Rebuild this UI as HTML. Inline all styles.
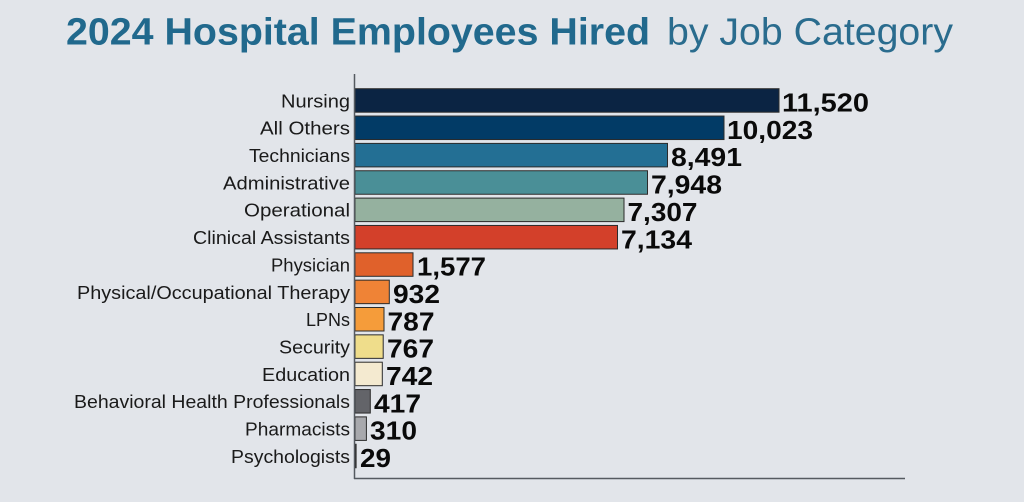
<!DOCTYPE html>
<html>
<head>
<meta charset="utf-8">
<style>
  html,body{margin:0;padding:0;background:#e2e5ea;}
  svg{display:block;}
  .lab{font-family:"Liberation Sans",sans-serif;font-size:18px;fill:#1a1a1a;}
  .val{font-family:"Liberation Sans",sans-serif;font-size:26px;font-weight:bold;fill:#0a0a0a;}
</style>
</head>
<body>
<svg width="1024" height="502" viewBox="0 0 1024 502" xmlns="http://www.w3.org/2000/svg">
  <rect x="0" y="0" width="1024" height="502" fill="#e2e5ea"/>
  <!-- Title -->
  <text x="66" y="44.5" font-family="Liberation Sans, sans-serif" font-size="38" font-weight="bold" fill="#21698d" textLength="584" lengthAdjust="spacingAndGlyphs">2024 Hospital Employees Hired</text>
  <text x="667" y="44.5" font-family="Liberation Sans, sans-serif" font-size="38" fill="#2a6c8e" textLength="286" lengthAdjust="spacingAndGlyphs">by Job Category</text>

  <!-- Bars -->
  <g stroke="#2b2b2b" stroke-width="1">
    <rect x="355" y="88.7"  width="424" height="23.5" fill="#0b2443"/>
    <rect x="355" y="116.05" width="369" height="23.5" fill="#023b66"/>
    <rect x="355" y="143.4" width="312.5" height="23.5" fill="#236f94"/>
    <rect x="355" y="170.75" width="292.5" height="23.5" fill="#4a8f97"/>
    <rect x="355" y="198.1" width="269" height="23.5" fill="#95b19f"/>
    <rect x="355" y="225.45" width="262.5" height="23.5" fill="#d3402a"/>
    <rect x="355" y="252.8" width="58" height="23.5" fill="#e0612b"/>
    <rect x="355" y="280.15" width="34.3" height="23.5" fill="#ef8336"/>
    <rect x="355" y="307.5" width="29" height="23.5" fill="#f59c3a"/>
    <rect x="355" y="334.85" width="28.2" height="23.5" fill="#efdd8b"/>
    <rect x="355" y="362.2" width="27.3" height="23.5" fill="#f4ead0"/>
    <rect x="355" y="389.55" width="15.3" height="23.5" fill="#636469"/>
    <rect x="355" y="416.9" width="11.4" height="23.5" fill="#a8a9ad"/>
    <rect x="355" y="444.25" width="1.1" height="23.5" fill="#333333"/>
  </g>

  <!-- Axes -->
  <line x1="354.5" y1="74" x2="354.5" y2="479" stroke="#555a60" stroke-width="1.5"/>
  <line x1="354" y1="478.5" x2="905" y2="478.5" stroke="#555a60" stroke-width="1.5"/>

  <!-- Category labels -->
  <g class="lab" text-anchor="end">
    <text x="350" y="107.3" textLength="69" lengthAdjust="spacingAndGlyphs">Nursing</text>
    <text x="350" y="134.65" textLength="90" lengthAdjust="spacingAndGlyphs">All Others</text>
    <text x="350" y="162" textLength="101" lengthAdjust="spacingAndGlyphs">Technicians</text>
    <text x="350" y="189.35" textLength="127" lengthAdjust="spacingAndGlyphs">Administrative</text>
    <text x="350" y="216.7" textLength="106" lengthAdjust="spacingAndGlyphs">Operational</text>
    <text x="350" y="244.05" textLength="157" lengthAdjust="spacingAndGlyphs">Clinical Assistants</text>
    <text x="350" y="271.4" textLength="79" lengthAdjust="spacingAndGlyphs">Physician</text>
    <text x="350" y="298.75" textLength="273" lengthAdjust="spacingAndGlyphs">Physical/Occupational Therapy</text>
    <text x="350" y="326.1" textLength="44" lengthAdjust="spacingAndGlyphs">LPNs</text>
    <text x="350" y="353.45" textLength="71" lengthAdjust="spacingAndGlyphs">Security</text>
    <text x="350" y="380.8" textLength="88" lengthAdjust="spacingAndGlyphs">Education</text>
    <text x="350" y="408.15" textLength="276" lengthAdjust="spacingAndGlyphs">Behavioral Health Professionals</text>
    <text x="350" y="435.5" textLength="105" lengthAdjust="spacingAndGlyphs">Pharmacists</text>
    <text x="350" y="462.85" textLength="119" lengthAdjust="spacingAndGlyphs">Psychologists</text>
  </g>

  <!-- Value labels -->
  <g class="val">
    <text x="782" y="111.5" textLength="87" lengthAdjust="spacingAndGlyphs">11,520</text>
    <text x="727" y="138.85" textLength="86" lengthAdjust="spacingAndGlyphs">10,023</text>
    <text x="671" y="166.2" textLength="71" lengthAdjust="spacingAndGlyphs">8,491</text>
    <text x="651" y="193.55" textLength="71" lengthAdjust="spacingAndGlyphs">7,948</text>
    <text x="627.5" y="220.9" textLength="70" lengthAdjust="spacingAndGlyphs">7,307</text>
    <text x="621" y="248.25" textLength="71" lengthAdjust="spacingAndGlyphs">7,134</text>
    <text x="417" y="275.6" textLength="69" lengthAdjust="spacingAndGlyphs">1,577</text>
    <text x="393" y="302.95" textLength="47" lengthAdjust="spacingAndGlyphs">932</text>
    <text x="387.5" y="330.3" textLength="47" lengthAdjust="spacingAndGlyphs">787</text>
    <text x="387" y="357.65" textLength="47" lengthAdjust="spacingAndGlyphs">767</text>
    <text x="386" y="385" textLength="47" lengthAdjust="spacingAndGlyphs">742</text>
    <text x="374" y="412.35" textLength="47" lengthAdjust="spacingAndGlyphs">417</text>
    <text x="370" y="439.7" textLength="47" lengthAdjust="spacingAndGlyphs">310</text>
    <text x="360" y="467.05" textLength="31" lengthAdjust="spacingAndGlyphs">29</text>
  </g>
</svg>
</body>
</html>
